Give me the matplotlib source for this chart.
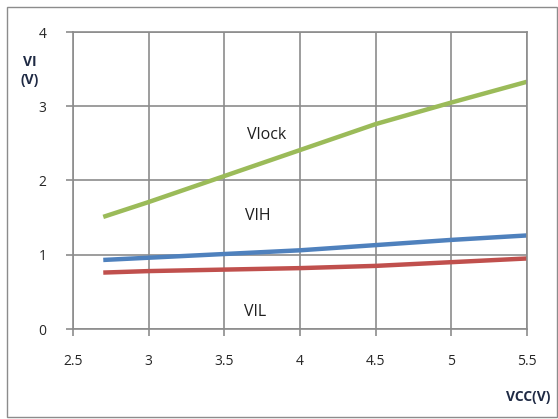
import matplotlib
matplotlib.use("Agg")
import matplotlib.pyplot as plt
from matplotlib.patches import Rectangle

vcc = [2.7, 3.0, 3.5, 4.0, 4.5, 5.0, 5.5]
vlock = [1.51, 1.71, 2.06, 2.41, 2.76, 3.05, 3.33]
vih = [0.93, 0.96, 1.01, 1.06, 1.13, 1.20, 1.26]
vil = [0.76, 0.78, 0.80, 0.82, 0.85, 0.90, 0.95]
xticks = [2.5, 3, 3.5, 4, 4.5, 5, 5.5]
yticks = [0, 1, 2, 3, 4]

plt.rcParams['font.family'] = ['Open Sans', 'DejaVu Sans']

fig = plt.figure(figsize=(5.58, 4.19), dpi=100)
W, H = 558, 419
ax = fig.add_axes([73 / W, 1 - 329 / H, (527 - 73) / W, (329 - 32) / H])

ax.plot(vcc, vlock, color='#9bbb59', lw=3.2, solid_capstyle='butt')
ax.plot(vcc, vih, color='#4f81bd', lw=3.2, solid_capstyle='butt')
ax.plot(vcc, vil, color='#c0504d', lw=3.2, solid_capstyle='butt')

ax.set_xlim(2.5, 5.5)
ax.set_ylim(0, 4)
ax.set_xticks(xticks)
ax.set_xticklabels([f"{t:g}" for t in xticks])
ax.set_yticks(yticks)
ax.grid(True, color='#8c8c8c', lw=1.2)
ax.set_axisbelow(True)
for s in ax.spines.values():
    s.set_color('#8c8c8c')
    s.set_linewidth(1.2)
ax.tick_params(axis='both', colors='#8c8c8c', labelcolor='#262626', labelsize=10,
               length=5, width=1.2)
ax.tick_params(axis='x', pad=13)
ax.tick_params(axis='y', pad=14)

ax.text(3.78, 2.61, 'Vlock', fontsize=11.5, color='#1f1f1f', ha='center', va='center')
ax.text(3.72, 1.52, 'VIH', fontsize=11.5, color='#1f1f1f', ha='center', va='center')
ax.text(3.70, 0.23, 'VIL', fontsize=11.5, color='#1f1f1f', ha='center', va='center')

fig.text(30 / W, 1 - 71 / H, 'VI\n(V)', fontsize=10, fontweight='bold',
         color='#1f2a44', ha='center', va='center', linespacing=1.4)
fig.text(528 / W, 1 - 397 / H, 'VCC(V)', fontsize=10, fontweight='bold',
         color='#1f2a44', ha='center', va='center')

fig.patches.append(Rectangle((7 / W, 1 - 417 / H), (557 - 7) / W, (417 - 7) / H,
                             transform=fig.transFigure, fill=False,
                             edgecolor='#8c8c8c', lw=1.0))

fig.savefig('out.png', dpi=100)
